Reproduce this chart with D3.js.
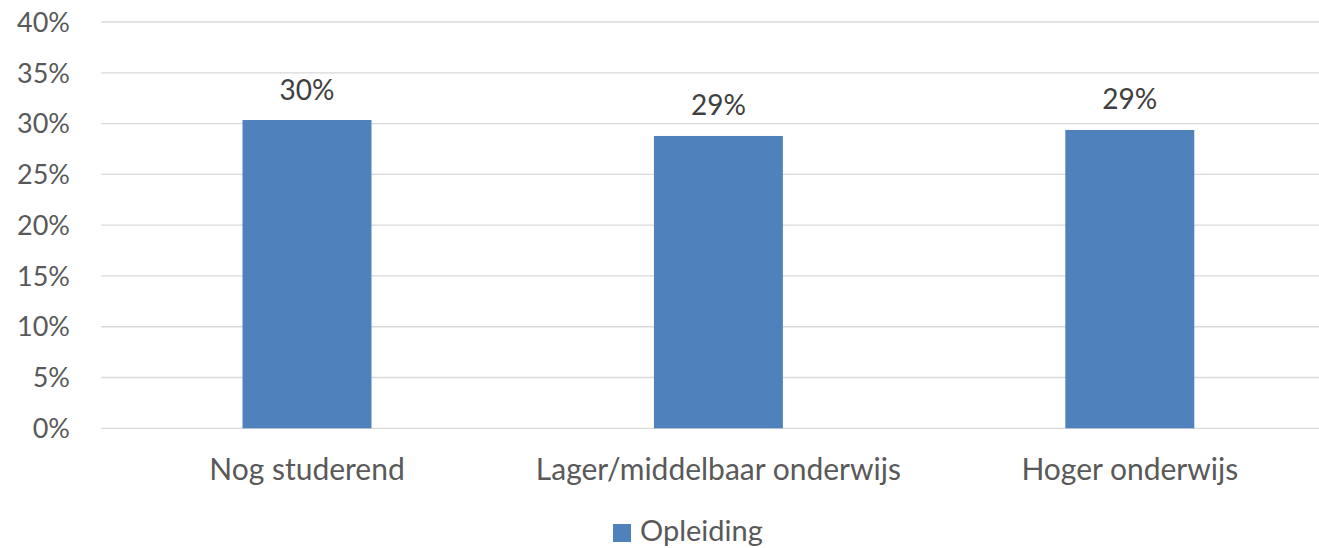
<!DOCTYPE html>
<html>
<head>
<meta charset="utf-8">
<script src="https://cdn.jsdelivr.net/npm/d3@7"></script>
<style>
  html, body { margin: 0; padding: 0; background: #fff; }
  svg { display: block; font-family: Lato, "Open Sans", sans-serif; }
</style>
</head>
<body>
<svg id="chart" width="1319" height="548"></svg>
<script>
const categories = ["Nog studerend", "Lager/middelbaar onderwijs", "Hoger onderwijs"];
const values = [30.35, 28.78, 29.37];
const valueLabels = ["30%", "29%", "29%"];
const yTicks = [0, 5, 10, 15, 20, 25, 30, 35, 40];
const seriesName = "Opleiding";

const svg = d3.select("#chart");
const W = 1319, H = 548;
const plotLeft = 101.3, plotRight = 1335.5, plotTop = 22, plotBottom = 428.3;

const x = d3.scaleBand().domain(categories).range([plotLeft, plotRight]).padding(0);
const y = d3.scaleLinear().domain([0, 40]).range([plotBottom, plotTop]);
const barW = x.bandwidth() * 0.3135;

// gridlines
svg.append("g").selectAll("line").data(yTicks).join("line")
  .attr("x1", plotLeft).attr("x2", W)
  .attr("y1", d => y(d)).attr("y2", d => y(d))
  .attr("stroke", "#D9D9D9").attr("stroke-width", 1.3);

// y tick labels
svg.append("g").selectAll("text").data(yTicks).join("text")
  .attr("x", 70).attr("y", d => y(d))
  .attr("dy", "0.36em")
  .attr("text-anchor", "end")
  .attr("fill", "#595959")
  .attr("font-size", 27)
  .text(d => d + "%");

// bars
svg.append("g").selectAll("rect").data(categories).join("rect")
  .attr("x", d => x(d) + x.bandwidth() / 2 - barW / 2)
  .attr("width", barW)
  .attr("y", (d, i) => y(values[i]))
  .attr("height", (d, i) => y(0) - y(values[i]))
  .attr("fill", "#4F81BD");

// data labels
svg.append("g").selectAll("text").data(categories).join("text")
  .attr("x", d => x(d) + x.bandwidth() / 2)
  .attr("y", (d, i) => y(values[i]) - 20.5)
  .attr("text-anchor", "middle")
  .attr("fill", "#404040")
  .attr("font-size", 28)
  .text((d, i) => valueLabels[i]);

// category labels
svg.append("g").selectAll("text").data(categories).join("text")
  .attr("x", d => x(d) + x.bandwidth() / 2)
  .attr("y", 480)
  .attr("text-anchor", "middle")
  .attr("fill", "#595959")
  .attr("font-size", 30)
  .text(d => d);

// legend
const lg = svg.append("g");
lg.append("rect").attr("x", 613).attr("y", 524).attr("width", 18).attr("height", 18).attr("fill", "#4F81BD");
lg.append("text").attr("x", 640).attr("y", 541).attr("fill", "#595959").attr("font-size", 29).text(seriesName);
</script>
</body>
</html>
